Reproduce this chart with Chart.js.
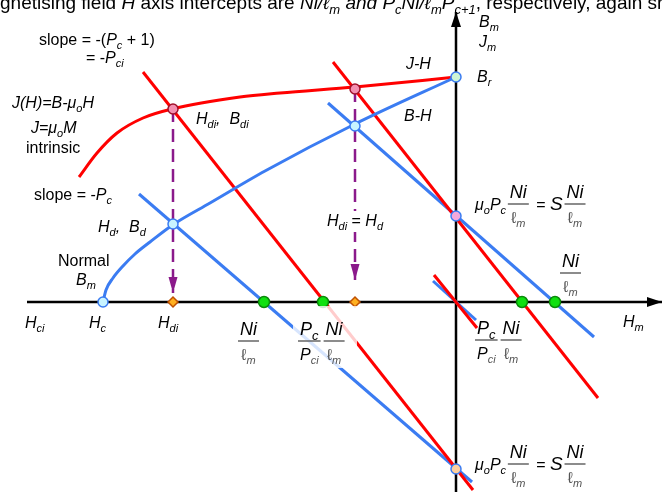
<!DOCTYPE html>
<html>
<head>
<meta charset="utf-8">
<script src="https://cdn.jsdelivr.net/npm/chart.js@4.4.0/dist/chart.umd.min.js"></script>
<style>
html, body { margin: 0; padding: 0; background: #fff; overflow: hidden; }
canvas { display: block; }
</style>
</head>
<body>
<canvas id="myChart" width="662" height="492"></canvas>
<script>
// demagnetisation quadrant: H horizontal, B / J vertical (arbitrary units)
const bhH = [-3.53, -3.50, -3.43, -3.33, -3.21, -3.06, -2.82, -2.46, -1.91, -1.01, 0]
const bhB = [0, 0.12, 0.24, 0.36, 0.48, 0.60, 0.78, 0.99, 1.31, 1.78, 2.25]
const jhH = [-3.77, -3.59, -3.39, -3.13, -2.84, -2.16, -1.76, -1.01, 0]
const jhJ = [1.25, 1.49, 1.69, 1.84, 1.93, 2.05, 2.09, 2.15, 2.25]

// load lines (start / end)
const loadIntrinsicLow = [[-3.13, 2.30], [0.17, -1.88]]
const loadNormalLow = [[-3.17, 1.08], [0.16, -1.80]]
const loadIntrinsicHigh = [[-1.23, 2.40], [1.42, -0.96]]
const loadNormalHigh = [[-1.28, 1.99], [1.38, -0.35]]
const stubIntrinsic = [[-0.22, 0.27], [0.21, -0.26]]
const stubNormal = [[-0.23, 0.21], [0.20, -0.18]]

// operating points
const hdiH = [-2.83, -1.01]
const bdiJ = [1.93, 2.13]
const bdB = [0.78, 1.76]
const hcH = -3.53
const brB = 2.25
const sB = [0.86, -1.67]
const interceptsH = [-1.92, -1.33, 0.66, 0.99]
const dropTipB = [0.09, 0.22]

// axes extents
const hAxis = [-4.29, 2.06]
const bAxis = [-1.90, 2.90]

let xMin = -4.56, xMax = 2.06, yMin = -1.90, yMax = 3.02

const RED = '#ff0000'
const BLUE = '#3b7cf2'
const PURPLE = '#8b1a8b'
const FAMILY = '"Liberation Sans", Arial, sans-serif'

function seg(pts) {
    return pts.map(p => ({ x: p[0], y: p[1] }))
}

function lineSet(data, color, order) {
    return { data: data, showLine: true, borderColor: color, borderWidth: 3, pointRadius: 0, clip: false, order: order }
}

function pointSet(data, fill, border, r, style) {
    return {
        data: data, showLine: false, pointRadius: r, pointBackgroundColor: fill, pointBorderColor: border,
        pointBorderWidth: 1.5, pointStyle: style || 'circle', clip: false, order: 0
    }
}

let bhCurve = lineSet(bhH.map((h, i) => ({ x: h, y: bhB[i] })), BLUE, 2)
let jhCurve = lineSet(jhH.map((h, i) => ({ x: h, y: jhJ[i] })), RED, 2)
bhCurve.tension = 0.4
bhCurve.cubicInterpolationMode = 'monotone'
jhCurve.tension = 0.4
jhCurve.cubicInterpolationMode = 'monotone'

let datasets = [
    // points first so they draw on top
    pointSet([{ x: hcH, y: 0 }, { x: hdiH[0], y: bdB[0] }, { x: hdiH[1], y: bdB[1] }], '#c8f4ff', BLUE, 5),
    pointSet([{ x: 0, y: brB }], '#cdf5d5', BLUE, 5),
    pointSet(hdiH.map((h, i) => ({ x: h, y: bdiJ[i] })), '#f38fb0', '#a0102a', 5),
    pointSet([{ x: 0, y: sB[0] }], '#f5a8dc', BLUE, 5),
    pointSet([{ x: 0, y: sB[1] }], '#fcd0a0', BLUE, 5),
    pointSet(interceptsH.map(h => ({ x: h, y: 0 })), '#10e010', '#0a8a0a', 5.5),
    pointSet(hdiH.map(h => ({ x: h, y: 0 })), '#ffb020', '#c05000', 5, 'rectRot'),

    bhCurve,
    jhCurve,
    lineSet(seg(loadIntrinsicLow), RED, 3),
    lineSet(seg(loadNormalLow), BLUE, 3),
    lineSet(seg(loadIntrinsicHigh), RED, 3),
    lineSet(seg(loadNormalHigh), BLUE, 3),
    lineSet(seg(stubIntrinsic), RED, 3),
    lineSet(seg(stubNormal), BLUE, 3),

    {
        data: [{ x: hAxis[0], y: 0 }, { x: hAxis[1], y: 0 }], showLine: true, borderColor: '#000',
        borderWidth: 2.5, pointRadius: 0, clip: false, order: 10, arrow: { len: 15, half: 5 }
    },
    {
        data: [{ x: 0, y: bAxis[0] }, { x: 0, y: bAxis[1] }], showLine: true, borderColor: '#000',
        borderWidth: 2.5, pointRadius: 0, clip: false, order: 10, arrow: { len: 15, half: 5 }
    }
]
hdiH.forEach((h, i) => {
    datasets.push({
        data: [{ x: h, y: bdiJ[i] }, { x: h, y: dropTipB[i] }], showLine: true, borderColor: PURPLE,
        borderWidth: 2.5, borderDash: [13, 7], pointRadius: 0, clip: false, order: 1, arrow: { len: 16, half: 4.5 }
    })
})

// text runs: [text, flags]  i = italic, s = subscript, g = grey, b = big
const NI_L = { num: [['Ni', 'i']], den: [['\u2113', 'g'], ['m', 'igs']] }
const PC_PCI = { num: [['P', 'i'], ['c', 'is']], den: [['P', 'i'], ['ci', 'igs']] }
const S_LABEL = [['\u03bc', 'i'], ['o', 'is'], ['P', 'i'], ['c', 'is'], ' ', NI_L, [' = ', ''], ['S', 'ib'], ' ', NI_L]

let labels = [
    { x: -4.56, y: 2.93, size: 19, parts: [['gnetising field ', ''], ['H', 'i'], [' axis intercepts are ', ''], ['Ni/\u2113', 'i'], ['m', 'is'], [' and ', 'i'], ['P', 'i'], ['c', 'is'], ['Ni/\u2113', 'i'], ['m', 'is'], ['P', 'i'], ['c+1', 'is'], [', respectively, again shown', '']] },
    { x: -4.17, y: 2.57, parts: [['slope = -(', ''], ['P', 'i'], ['c', 'is'], [' + 1)', '']] },
    { x: -3.70, y: 2.39, parts: [['= -', ''], ['P', 'i'], ['ci', 'is']] },
    { x: -0.50, y: 2.33, parts: [['J-H', 'i']] },
    { x: 0.23, y: 2.75, parts: [['B', 'i'], ['m', 'is']] },
    { x: 0.23, y: 2.55, parts: [['J', 'i'], ['m', 'is']] },
    { x: 0.21, y: 2.20, parts: [['B', 'i'], ['r', 'is']] },
    { x: -4.44, y: 1.94, parts: [['J(H)=B-\u03bc', 'i'], ['o', 'is'], ['H', 'i']] },
    { x: -2.60, y: 1.78, parts: [['H', 'i'], ['di', 'is'], [',  B', 'i'], ['di', 'is']] },
    { x: -0.52, y: 1.81, parts: [['B-H', 'i']] },
    { x: -4.25, y: 1.69, parts: [['J=\u03bc', 'i'], ['o', 'is'], ['M', 'i']] },
    { x: -4.30, y: 1.49, parts: [['intrinsic', '']] },
    { x: -4.22, y: 1.02, parts: [['slope = -', ''], ['P', 'i'], ['c', 'is']] },
    { x: -3.58, y: 0.70, parts: [['H', 'i'], ['d', 'is'], [',  B', 'i'], ['d', 'is']] },
    { x: -1.29, y: 0.76, bg: [2, 15, 2, 6, 1], parts: [['H', 'i'], ['di', 'is'], [' = ', ''], ['H', 'i'], ['d', 'is']] },
    { x: -3.98, y: 0.36, parts: [['Normal', '']] },
    { x: -3.80, y: 0.17, parts: [['B', 'i'], ['m', 'is']] },
    { x: -4.31, y: -0.26, parts: [['H', 'i'], ['ci', 'is']] },
    { x: -3.67, y: -0.26, parts: [['H', 'i'], ['c', 'is']] },
    { x: -2.98, y: -0.26, parts: [['H', 'i'], ['di', 'is']] },
    { x: 1.67, y: -0.25, parts: [['H', 'i'], ['m', 'is']] },
    { x: -2.18, y: -0.45, parts: [NI_L] },
    { x: -1.58, y: -0.45, bg: [5, 41, 59, 21, 0.8], parts: [PC_PCI, NI_L] },
    { x: 0.19, y: -0.44, parts: [PC_PCI, NI_L] },
    { x: 1.04, y: 0.23, parts: [NI_L] },
    { x: 0.19, y: 0.92, parts: S_LABEL },
    { x: 0.19, y: -1.68, parts: S_LABEL }
]

function runSize(flags, size) {
    if (flags.includes('s')) return Math.round(size * 0.7)
    if (flags.includes('b')) return size + 3
    return size
}

function setFont(ctx, flags, size) {
    ctx.font = (flags.includes('i') ? 'italic ' : '') + runSize(flags, size) + 'px ' + FAMILY
}

function runsWidth(ctx, runs, size) {
    let w = 0
    for (const r of runs) {
        setFont(ctx, r[1], size)
        w += ctx.measureText(r[0]).width
    }
    return w
}

function drawRuns(ctx, x, y, runs, size) {
    let cx = x
    for (const r of runs) {
        setFont(ctx, r[1], size)
        ctx.fillStyle = r[1].includes('g') ? '#555' : '#000'
        ctx.fillText(r[0], cx, y + (r[1].includes('s') ? size * 0.28 : 0))
        cx += ctx.measureText(r[0]).width
    }
    return cx - x
}

function partWidth(ctx, p, size) {
    if (typeof p === 'string') { ctx.font = size + 'px ' + FAMILY; return ctx.measureText(p).width * 0.4 }
    if (p.num) return Math.max(runsWidth(ctx, p.num, 18), runsWidth(ctx, p.den, 16)) + 4
    return runsWidth(ctx, [p], size)
}

function drawPart(ctx, x, y, p, size) {
    let w = partWidth(ctx, p, size)
    if (typeof p === 'string') return w
    if (p.num) {
        let nw = runsWidth(ctx, p.num, 18)
        let dw = runsWidth(ctx, p.den, 16)
        drawRuns(ctx, x + (w - nw) / 2, y - 12, p.num, 18)
        drawRuns(ctx, x + (w - dw) / 2, y + 13, p.den, 16)
        ctx.strokeStyle = '#666'
        ctx.lineWidth = 1.5
        ctx.beginPath()
        ctx.moveTo(x, y - 6)
        ctx.lineTo(x + w, y - 6)
        ctx.stroke()
        return w + 3
    }
    return drawRuns(ctx, x, y, [p], size)
}

const overlay = {
    id: 'overlay',
    afterDatasetsDraw(chart) {
        const ctx = chart.ctx
        const xs = chart.scales.x, ys = chart.scales.y
        ctx.save()

        // arrow heads at the end of flagged datasets
        chart.data.datasets.forEach(ds => {
            if (!ds.arrow) return
            const n = ds.data.length
            const a = ds.data[n - 2], b = ds.data[n - 1]
            const x0 = xs.getPixelForValue(a.x), y0 = ys.getPixelForValue(a.y)
            const x1 = xs.getPixelForValue(b.x), y1 = ys.getPixelForValue(b.y)
            const ang = Math.atan2(y1 - y0, x1 - x0)
            const c = Math.cos(ang), s = Math.sin(ang)
            ctx.fillStyle = ds.borderColor
            ctx.beginPath()
            ctx.moveTo(x1, y1)
            ctx.lineTo(x1 - ds.arrow.len * c + ds.arrow.half * s, y1 - ds.arrow.len * s - ds.arrow.half * c)
            ctx.lineTo(x1 - ds.arrow.len * c - ds.arrow.half * s, y1 - ds.arrow.len * s + ds.arrow.half * c)
            ctx.closePath()
            ctx.fill()
        })

        ctx.textBaseline = 'alphabetic'
        labels.forEach(l => {
            const size = l.size || 16
            const px = xs.getPixelForValue(l.x), py = ys.getPixelForValue(l.y)
            if (l.bg) {
                let w = 0
                l.parts.forEach(p => { w += partWidth(ctx, p, size) })
                const right = l.bg[2] > 20 ? px + l.bg[2] : px + w + l.bg[2]
                ctx.fillStyle = 'rgba(255,255,255,' + l.bg[4] + ')'
                ctx.fillRect(px - l.bg[0], py - l.bg[1], right - (px - l.bg[0]), l.bg[1] + l.bg[3])
            }
            let cx = px
            l.parts.forEach(p => { cx += drawPart(ctx, cx, py, p, size) })
        })
        ctx.restore()
    }
}

var ctx = document.getElementById('myChart')

var myChart = new Chart(ctx, {
    type: 'scatter',
    data: { datasets: datasets },
    options: {
        responsive: false,
        animation: false,
        devicePixelRatio: 1,
        events: [],
        layout: { padding: 0, autoPadding: false },
        plugins: { legend: { display: false }, tooltip: { enabled: false } },
        scales: {
            x: { type: 'linear', min: xMin, max: xMax, display: false },
            y: { type: 'linear', min: yMin, max: yMax, display: false }
        }
    },
    plugins: [overlay]
})
</script>
</body>
</html>
